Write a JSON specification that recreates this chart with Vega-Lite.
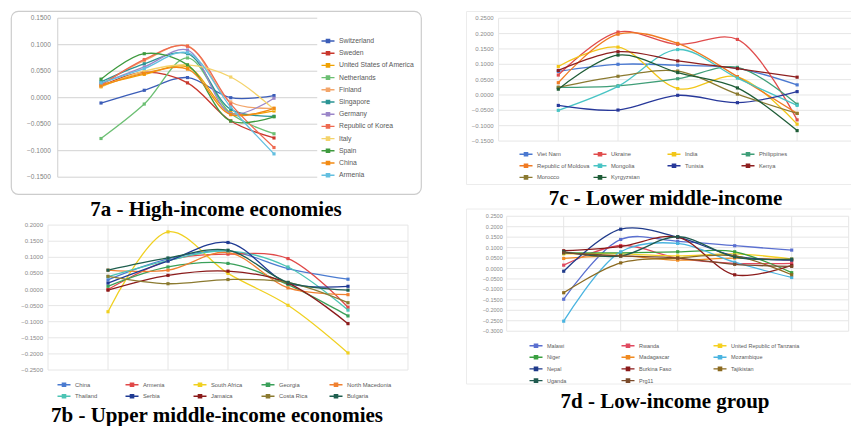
{
"$schema": "https://vega.github.io/schema/vega-lite/v6.json",
"background": "white",
"padding": {"left": 10, "top": 10, "right": 0, "bottom": 0},
"columns": 2,
"align": "none",
"bounds": "flush",
"spacing": {"row": 14.5, "column": 45},
"config": {
  "view": {"stroke": null},
  "title": {"font": "Liberation Serif", "fontSize": 21, "fontWeight": "bold", "color": "#000000", "orient": "bottom", "anchor": "middle"},
  "text": {"font": "Liberation Sans"},
  "legend": {"labelFont": "Liberation Sans", "labelColor": "#595959", "title": null, "orient": "none", "padding": 0,
             "symbolType": "M-1.3,0H1.3M-0.32,-0.32H0.32V0.32H-0.32Z", "symbolSize": 100, "symbolStrokeWidth": 1.4, "labelOffset": 5}
},
"resolve": {"scale": {"x": "independent", "y": "independent", "color": "independent"}},
"datasets": {
  "cols": [{"i": 0}, {"i": 1}, {"i": 2}, {"i": 3}, {"i": 4}, {"i": 5}, {"i": 6}],
  "tA": [{"v": -0.15}, {"v": -0.1}, {"v": -0.05}, {"v": 0}, {"v": 0.05}, {"v": 0.1}, {"v": 0.15}],
  "tB": [{"v": -0.25}, {"v": -0.2}, {"v": -0.15}, {"v": -0.1}, {"v": -0.05}, {"v": 0}, {"v": 0.05}, {"v": 0.1}, {"v": 0.15}, {"v": 0.2}],
  "tC": [{"v": -0.15}, {"v": -0.1}, {"v": -0.05}, {"v": 0}, {"v": 0.05}, {"v": 0.1}, {"v": 0.15}, {"v": 0.2}, {"v": 0.25}],
  "tD": [{"v": -0.3}, {"v": -0.25}, {"v": -0.2}, {"v": -0.15}, {"v": -0.1}, {"v": -0.05}, {"v": 0}, {"v": 0.05}, {"v": 0.1}, {"v": 0.15}, {"v": 0.2}, {"v": 0.25}],
  "high": [
    {"c": "Switzerland", "t": 1, "v": -0.010}, {"c": "Switzerland", "t": 2, "v": 0.014}, {"c": "Switzerland", "t": 3, "v": 0.038}, {"c": "Switzerland", "t": 4, "v": 0.000}, {"c": "Switzerland", "t": 5, "v": 0.004},
    {"c": "Sweden", "t": 1, "v": 0.022}, {"c": "Sweden", "t": 2, "v": 0.048}, {"c": "Sweden", "t": 3, "v": 0.028}, {"c": "Sweden", "t": 4, "v": -0.044}, {"c": "Sweden", "t": 5, "v": -0.076},
    {"c": "United States of America", "t": 1, "v": 0.024}, {"c": "United States of America", "t": 2, "v": 0.044}, {"c": "United States of America", "t": 3, "v": 0.058}, {"c": "United States of America", "t": 4, "v": -0.028}, {"c": "United States of America", "t": 5, "v": -0.025},
    {"c": "Netherlands", "t": 1, "v": -0.077}, {"c": "Netherlands", "t": 2, "v": -0.012}, {"c": "Netherlands", "t": 3, "v": 0.075}, {"c": "Netherlands", "t": 4, "v": -0.030}, {"c": "Netherlands", "t": 5, "v": -0.068},
    {"c": "Finland", "t": 1, "v": 0.025}, {"c": "Finland", "t": 2, "v": 0.070}, {"c": "Finland", "t": 3, "v": 0.098}, {"c": "Finland", "t": 4, "v": -0.008}, {"c": "Finland", "t": 5, "v": -0.020},
    {"c": "Singapore", "t": 1, "v": 0.030}, {"c": "Singapore", "t": 2, "v": 0.064}, {"c": "Singapore", "t": 3, "v": 0.083}, {"c": "Singapore", "t": 4, "v": -0.022}, {"c": "Singapore", "t": 5, "v": -0.035},
    {"c": "Germany", "t": 1, "v": 0.027}, {"c": "Germany", "t": 2, "v": 0.058}, {"c": "Germany", "t": 3, "v": 0.090}, {"c": "Germany", "t": 4, "v": -0.030}, {"c": "Germany", "t": 5, "v": -0.001},
    {"c": "Republic of Korea", "t": 1, "v": 0.023}, {"c": "Republic of Korea", "t": 2, "v": 0.072}, {"c": "Republic of Korea", "t": 3, "v": 0.097}, {"c": "Republic of Korea", "t": 4, "v": -0.012}, {"c": "Republic of Korea", "t": 5, "v": -0.094},
    {"c": "Italy", "t": 1, "v": 0.020}, {"c": "Italy", "t": 2, "v": 0.050}, {"c": "Italy", "t": 3, "v": 0.062}, {"c": "Italy", "t": 4, "v": 0.039}, {"c": "Italy", "t": 5, "v": -0.022},
    {"c": "Spain", "t": 1, "v": 0.035}, {"c": "Spain", "t": 2, "v": 0.083}, {"c": "Spain", "t": 3, "v": 0.062}, {"c": "Spain", "t": 4, "v": -0.044}, {"c": "Spain", "t": 5, "v": -0.036},
    {"c": "China", "t": 1, "v": 0.022}, {"c": "China", "t": 2, "v": 0.046}, {"c": "China", "t": 3, "v": 0.054}, {"c": "China", "t": 4, "v": -0.032}, {"c": "China", "t": 5, "v": -0.020},
    {"c": "Armenia", "t": 1, "v": 0.028}, {"c": "Armenia", "t": 2, "v": 0.055}, {"c": "Armenia", "t": 3, "v": 0.085}, {"c": "Armenia", "t": 4, "v": -0.018}, {"c": "Armenia", "t": 5, "v": -0.106}
  ],
  "lower": [
    {"c": "Viet Nam", "t": 1, "v": 0.077}, {"c": "Viet Nam", "t": 2, "v": 0.100}, {"c": "Viet Nam", "t": 3, "v": 0.097}, {"c": "Viet Nam", "t": 4, "v": 0.087}, {"c": "Viet Nam", "t": 5, "v": 0.033},
    {"c": "Ukraine", "t": 1, "v": 0.065}, {"c": "Ukraine", "t": 2, "v": 0.205}, {"c": "Ukraine", "t": 3, "v": 0.165}, {"c": "Ukraine", "t": 4, "v": 0.181}, {"c": "Ukraine", "t": 5, "v": -0.081},
    {"c": "India", "t": 1, "v": 0.093}, {"c": "India", "t": 2, "v": 0.156}, {"c": "India", "t": 3, "v": 0.021}, {"c": "India", "t": 4, "v": 0.059}, {"c": "India", "t": 5, "v": -0.095},
    {"c": "Philippines", "t": 1, "v": 0.025}, {"c": "Philippines", "t": 2, "v": 0.030}, {"c": "Philippines", "t": 3, "v": 0.053}, {"c": "Philippines", "t": 4, "v": 0.090}, {"c": "Philippines", "t": 5, "v": -0.030},
    {"c": "Republic of Moldova", "t": 1, "v": 0.040}, {"c": "Republic of Moldova", "t": 2, "v": 0.198}, {"c": "Republic of Moldova", "t": 3, "v": 0.168}, {"c": "Republic of Moldova", "t": 4, "v": 0.060}, {"c": "Republic of Moldova", "t": 5, "v": -0.060},
    {"c": "Mongolia", "t": 1, "v": -0.050}, {"c": "Mongolia", "t": 2, "v": 0.028}, {"c": "Mongolia", "t": 3, "v": 0.148}, {"c": "Mongolia", "t": 4, "v": 0.055}, {"c": "Mongolia", "t": 5, "v": -0.034},
    {"c": "Tunisia", "t": 1, "v": -0.034}, {"c": "Tunisia", "t": 2, "v": -0.049}, {"c": "Tunisia", "t": 3, "v": -0.001}, {"c": "Tunisia", "t": 4, "v": -0.025}, {"c": "Tunisia", "t": 5, "v": 0.011},
    {"c": "Kenya", "t": 1, "v": 0.080}, {"c": "Kenya", "t": 2, "v": 0.141}, {"c": "Kenya", "t": 3, "v": 0.111}, {"c": "Kenya", "t": 4, "v": 0.086}, {"c": "Kenya", "t": 5, "v": 0.058},
    {"c": "Morocco", "t": 1, "v": 0.025}, {"c": "Morocco", "t": 2, "v": 0.061}, {"c": "Morocco", "t": 3, "v": 0.078}, {"c": "Morocco", "t": 4, "v": 0.003}, {"c": "Morocco", "t": 5, "v": -0.060},
    {"c": "Kyrgyzstan", "t": 1, "v": 0.019}, {"c": "Kyrgyzstan", "t": 2, "v": 0.130}, {"c": "Kyrgyzstan", "t": 3, "v": 0.073}, {"c": "Kyrgyzstan", "t": 4, "v": 0.023}, {"c": "Kyrgyzstan", "t": 5, "v": -0.116}
  ],
  "upper": [
    {"c": "China", "t": 1, "v": 0.030}, {"c": "China", "t": 2, "v": 0.095}, {"c": "China", "t": 3, "v": 0.120}, {"c": "China", "t": 4, "v": 0.065}, {"c": "China", "t": 5, "v": 0.032},
    {"c": "Armenia", "t": 1, "v": 0.000}, {"c": "Armenia", "t": 2, "v": 0.090}, {"c": "Armenia", "t": 3, "v": 0.110}, {"c": "Armenia", "t": 4, "v": 0.096}, {"c": "Armenia", "t": 5, "v": -0.055},
    {"c": "South Africa", "t": 1, "v": -0.069}, {"c": "South Africa", "t": 2, "v": 0.179}, {"c": "South Africa", "t": 3, "v": 0.050}, {"c": "South Africa", "t": 4, "v": -0.049}, {"c": "South Africa", "t": 5, "v": -0.197},
    {"c": "Georgia", "t": 1, "v": 0.010}, {"c": "Georgia", "t": 2, "v": 0.070}, {"c": "Georgia", "t": 3, "v": 0.081}, {"c": "Georgia", "t": 4, "v": 0.015}, {"c": "Georgia", "t": 5, "v": -0.082},
    {"c": "North Macedonia", "t": 1, "v": 0.060}, {"c": "North Macedonia", "t": 2, "v": 0.060}, {"c": "North Macedonia", "t": 3, "v": 0.115}, {"c": "North Macedonia", "t": 4, "v": 0.005}, {"c": "North Macedonia", "t": 5, "v": -0.016},
    {"c": "Thailand", "t": 1, "v": 0.040}, {"c": "Thailand", "t": 2, "v": 0.090}, {"c": "Thailand", "t": 3, "v": 0.120}, {"c": "Thailand", "t": 4, "v": 0.070}, {"c": "Thailand", "t": 5, "v": -0.064},
    {"c": "Serbia", "t": 1, "v": 0.020}, {"c": "Serbia", "t": 2, "v": 0.088}, {"c": "Serbia", "t": 3, "v": 0.146}, {"c": "Serbia", "t": 4, "v": 0.020}, {"c": "Serbia", "t": 5, "v": 0.010},
    {"c": "Jamaica", "t": 1, "v": -0.002}, {"c": "Jamaica", "t": 2, "v": 0.044}, {"c": "Jamaica", "t": 3, "v": 0.057}, {"c": "Jamaica", "t": 4, "v": 0.020}, {"c": "Jamaica", "t": 5, "v": -0.106},
    {"c": "Costa Rica", "t": 1, "v": 0.041}, {"c": "Costa Rica", "t": 2, "v": 0.018}, {"c": "Costa Rica", "t": 3, "v": 0.031}, {"c": "Costa Rica", "t": 4, "v": 0.022}, {"c": "Costa Rica", "t": 5, "v": -0.041},
    {"c": "Bulgaria", "t": 1, "v": 0.060}, {"c": "Bulgaria", "t": 2, "v": 0.098}, {"c": "Bulgaria", "t": 3, "v": 0.122}, {"c": "Bulgaria", "t": 4, "v": 0.022}, {"c": "Bulgaria", "t": 5, "v": -0.002}
  ],
  "low": [
    {"c": "Malawi", "t": 1, "v": -0.147}, {"c": "Malawi", "t": 2, "v": 0.139}, {"c": "Malawi", "t": 3, "v": 0.130}, {"c": "Malawi", "t": 4, "v": 0.109}, {"c": "Malawi", "t": 5, "v": 0.088},
    {"c": "Rwanda", "t": 1, "v": 0.016}, {"c": "Rwanda", "t": 2, "v": 0.110}, {"c": "Rwanda", "t": 3, "v": 0.050}, {"c": "Rwanda", "t": 4, "v": 0.025}, {"c": "Rwanda", "t": 5, "v": 0.025},
    {"c": "United Republic of Tanzania", "t": 1, "v": 0.070}, {"c": "United Republic of Tanzania", "t": 2, "v": 0.070}, {"c": "United Republic of Tanzania", "t": 3, "v": 0.060}, {"c": "United Republic of Tanzania", "t": 4, "v": 0.070}, {"c": "United Republic of Tanzania", "t": 5, "v": 0.045},
    {"c": "Niger", "t": 1, "v": 0.075}, {"c": "Niger", "t": 2, "v": 0.075}, {"c": "Niger", "t": 3, "v": 0.080}, {"c": "Niger", "t": 4, "v": 0.080}, {"c": "Niger", "t": 5, "v": -0.020},
    {"c": "Madagascar", "t": 1, "v": 0.048}, {"c": "Madagascar", "t": 2, "v": 0.060}, {"c": "Madagascar", "t": 3, "v": 0.040}, {"c": "Madagascar", "t": 4, "v": 0.050}, {"c": "Madagascar", "t": 5, "v": 0.040},
    {"c": "Mozambique", "t": 1, "v": -0.252}, {"c": "Mozambique", "t": 2, "v": 0.080}, {"c": "Mozambique", "t": 3, "v": 0.120}, {"c": "Mozambique", "t": 4, "v": 0.030}, {"c": "Mozambique", "t": 5, "v": -0.043},
    {"c": "Nepal", "t": 1, "v": -0.013}, {"c": "Nepal", "t": 2, "v": 0.188}, {"c": "Nepal", "t": 3, "v": 0.150}, {"c": "Nepal", "t": 4, "v": 0.060}, {"c": "Nepal", "t": 5, "v": 0.040},
    {"c": "Burkina Faso", "t": 1, "v": 0.085}, {"c": "Burkina Faso", "t": 2, "v": 0.105}, {"c": "Burkina Faso", "t": 3, "v": 0.150}, {"c": "Burkina Faso", "t": 4, "v": -0.030}, {"c": "Burkina Faso", "t": 5, "v": 0.015},
    {"c": "Tajikistan", "t": 1, "v": -0.116}, {"c": "Tajikistan", "t": 2, "v": 0.027}, {"c": "Tajikistan", "t": 3, "v": 0.050}, {"c": "Tajikistan", "t": 4, "v": 0.060}, {"c": "Tajikistan", "t": 5, "v": -0.030},
    {"c": "Uganda", "t": 1, "v": 0.080}, {"c": "Uganda", "t": 2, "v": 0.060}, {"c": "Uganda", "t": 3, "v": 0.152}, {"c": "Uganda", "t": 4, "v": 0.055}, {"c": "Uganda", "t": 5, "v": 0.045},
    {"c": "Prg11", "t": 1, "v": 0.075}, {"c": "Prg11", "t": 2, "v": 0.060}, {"c": "Prg11", "t": 3, "v": 0.050}, {"c": "Prg11", "t": 4, "v": 0.020}, {"c": "Prg11", "t": 5, "v": 0.010}
  ]
},
"concat": [
  {
    "width": 410, "height": 183,
    "view": {"stroke": "#cccccc", "strokeWidth": 1.2, "cornerRadius": 7},
    "title": {"text": "7a - High-income economies", "offset": 5},
    "layer": [
      {"data": {"name": "tA"}, "mark": {"type": "rule", "color": "#d2d2d2", "strokeWidth": 1},
       "encoding": {"y": {"field": "v", "type": "quantitative", "axis": null, "scale": {"domain": [-0.1817, 0.1636], "nice": false, "zero": false}},
                    "x": {"datum": 0, "type": "quantitative", "axis": null, "scale": {"domain": [-1.081, 8.399], "nice": false, "zero": false}},
                    "x2": {"datum": 6}}},
      {"data": {"name": "cols"}, "transform": [{"filter": "datum.i == 0"}], "mark": {"type": "rule", "color": "#cfcfcf", "strokeWidth": 1},
       "encoding": {"x": {"field": "i", "type": "quantitative", "axis": null, "scale": {"domain": [-1.081, 8.399], "nice": false, "zero": false}},
                    "y": {"datum": -0.15, "type": "quantitative", "axis": null, "scale": {"domain": [-0.1817, 0.1636], "nice": false, "zero": false}},
                    "y2": {"datum": 0.15}}},
      {"data": {"name": "tA"}, "mark": {"type": "text", "align": "right", "baseline": "middle", "dx": -7, "fontSize": 6.5, "color": "#7f7f7f"},
       "encoding": {"y": {"field": "v", "type": "quantitative", "axis": null, "scale": {"domain": [-0.1817, 0.1636], "nice": false, "zero": false}},
                    "x": {"datum": 0, "type": "quantitative", "axis": null, "scale": {"domain": [-1.081, 8.399], "nice": false, "zero": false}},
                    "text": {"field": "v", "type": "quantitative", "format": ".4f"}}},
      {"data": {"name": "high"}, "mark": {"type": "line", "interpolate": "catmull-rom", "strokeWidth": 1.3},
       "encoding": {"x": {"field": "t", "type": "quantitative", "axis": null, "scale": {"domain": [-1.081, 8.399], "nice": false, "zero": false}},
                    "y": {"field": "v", "type": "quantitative", "axis": null, "scale": {"domain": [-0.1817, 0.1636], "nice": false, "zero": false}},
                    "color": {"field": "c", "type": "nominal",
                              "scale": {"domain": ["Switzerland", "Sweden", "United States of America", "Netherlands", "Finland", "Singapore", "Germany", "Republic of Korea", "Italy", "Spain", "China", "Armenia"],
                                        "range": ["#3b5db8", "#c9372c", "#f0a202", "#6cbf73", "#f3a56a", "#2b9494", "#9b86c9", "#ee6a50", "#f4d36b", "#3e9a3e", "#f28b14", "#63bfe0"]},
                              "legend": {"legendX": 311, "legendY": 24, "labelFontSize": 6.8, "rowPadding": 1.2, "direction": "vertical"}}}},
      {"data": {"name": "high"}, "mark": {"type": "point", "filled": true, "shape": "square", "size": 10, "opacity": 1},
       "encoding": {"x": {"field": "t", "type": "quantitative", "axis": null, "scale": {"domain": [-1.081, 8.399], "nice": false, "zero": false}},
                    "y": {"field": "v", "type": "quantitative", "axis": null, "scale": {"domain": [-0.1817, 0.1636], "nice": false, "zero": false}},
                    "color": {"field": "c", "type": "nominal",
                              "scale": {"domain": ["Switzerland", "Sweden", "United States of America", "Netherlands", "Finland", "Singapore", "Germany", "Republic of Korea", "Italy", "Spain", "China", "Armenia"],
                                        "range": ["#3b5db8", "#c9372c", "#f0a202", "#6cbf73", "#f3a56a", "#2b9494", "#9b86c9", "#ee6a50", "#f4d36b", "#3e9a3e", "#f28b14", "#63bfe0"]},
                              "legend": {"legendX": 311, "legendY": 24, "labelFontSize": 6.8, "rowPadding": 1.2, "direction": "vertical"}}}}
    ]
  },
  {
    "width": 391, "height": 173,
    "view": {"stroke": "#ececec", "strokeWidth": 1},
    "title": {"text": "7c - Lower middle-income", "offset": 4, "dx": 4},
    "layer": [
      {"data": {"name": "tC"}, "mark": {"type": "rule", "color": "#e6e6e6", "strokeWidth": 1},
       "encoding": {"y": {"field": "v", "type": "quantitative", "axis": null, "scale": {"domain": [-0.2899, 0.2736], "nice": false, "zero": false}},
                    "x": {"datum": 0, "type": "quantitative", "axis": null, "scale": {"domain": [-0.546, 6.003], "nice": false, "zero": false}},
                    "x2": {"datum": 6}}},
      {"data": {"name": "cols"}, "mark": {"type": "rule", "color": "#e6e6e6", "strokeWidth": 1},
       "encoding": {"x": {"field": "i", "type": "quantitative", "axis": null, "scale": {"domain": [-0.546, 6.003], "nice": false, "zero": false}},
                    "y": {"datum": -0.15, "type": "quantitative", "axis": null, "scale": {"domain": [-0.2899, 0.2736], "nice": false, "zero": false}},
                    "y2": {"datum": 0.25}}},
      {"data": {"name": "tC"}, "mark": {"type": "text", "align": "right", "baseline": "middle", "dx": -5, "fontSize": 6, "color": "#8a8a8a"},
       "encoding": {"y": {"field": "v", "type": "quantitative", "axis": null, "scale": {"domain": [-0.2899, 0.2736], "nice": false, "zero": false}},
                    "x": {"datum": 0, "type": "quantitative", "axis": null, "scale": {"domain": [-0.546, 6.003], "nice": false, "zero": false}},
                    "text": {"field": "v", "type": "quantitative", "format": ".4f"}}},
      {"data": {"name": "lower"}, "mark": {"type": "line", "interpolate": "catmull-rom", "strokeWidth": 1.3},
       "encoding": {"x": {"field": "t", "type": "quantitative", "axis": null, "scale": {"domain": [-0.546, 6.003], "nice": false, "zero": false}},
                    "y": {"field": "v", "type": "quantitative", "axis": null, "scale": {"domain": [-0.2899, 0.2736], "nice": false, "zero": false}},
                    "color": {"field": "c", "type": "nominal",
                              "scale": {"domain": ["Viet Nam", "Ukraine", "India", "Philippines", "Republic of Moldova", "Mongolia", "Tunisia", "Kenya", "Morocco", "Kyrgyzstan"],
                                        "range": ["#4a78d0", "#e04c4c", "#f2c618", "#3f9e78", "#f07a22", "#48c4c4", "#27389a", "#8e1f1f", "#8b7a30", "#1e5c36"]},
                              "legend": {"legendX": 54, "legendY": 137, "labelFontSize": 5.8, "columns": 4, "direction": "horizontal", "gridAlign": "all", "columnPadding": 0, "rowPadding": 0.7}}}},
      {"data": {"name": "lower"}, "mark": {"type": "point", "filled": true, "shape": "square", "size": 10, "opacity": 1},
       "encoding": {"x": {"field": "t", "type": "quantitative", "axis": null, "scale": {"domain": [-0.546, 6.003], "nice": false, "zero": false}},
                    "y": {"field": "v", "type": "quantitative", "axis": null, "scale": {"domain": [-0.2899, 0.2736], "nice": false, "zero": false}},
                    "color": {"field": "c", "type": "nominal",
                              "scale": {"domain": ["Viet Nam", "Ukraine", "India", "Philippines", "Republic of Moldova", "Mongolia", "Tunisia", "Kenya", "Morocco", "Kyrgyzstan"],
                                        "range": ["#4a78d0", "#e04c4c", "#f2c618", "#3f9e78", "#f07a22", "#48c4c4", "#27389a", "#8e1f1f", "#8b7a30", "#1e5c36"]},
                              "legend": {"legendX": 54, "legendY": 137, "labelFontSize": 5.8, "columns": 4, "direction": "horizontal", "gridAlign": "all", "columnPadding": 0, "rowPadding": 0.7}}}}
    ]
  },
  {
    "width": 410, "height": 193,
    "title": {"text": "7b - Upper middle-income economies", "offset": 3, "dx": 1},
    "layer": [
      {"data": {"name": "tB"}, "mark": {"type": "rule", "color": "#e6e6e6", "strokeWidth": 1},
       "encoding": {"y": {"field": "v", "type": "quantitative", "axis": null, "scale": {"domain": [-0.3478, 0.2516], "nice": false, "zero": false}},
                    "x": {"datum": 0, "type": "quantitative", "axis": null, "scale": {"domain": [-0.6167, 6.2167], "nice": false, "zero": false}},
                    "x2": {"datum": 6}}},
      {"data": {"name": "cols"}, "mark": {"type": "rule", "color": "#e6e6e6", "strokeWidth": 1},
       "encoding": {"x": {"field": "i", "type": "quantitative", "axis": null, "scale": {"domain": [-0.6167, 6.2167], "nice": false, "zero": false}},
                    "y": {"datum": -0.25, "type": "quantitative", "axis": null, "scale": {"domain": [-0.3478, 0.2516], "nice": false, "zero": false}},
                    "y2": {"datum": 0.2}}},
      {"data": {"name": "tB"}, "mark": {"type": "text", "align": "right", "baseline": "middle", "dx": -5, "fontSize": 6, "color": "#8a8a8a"},
       "encoding": {"y": {"field": "v", "type": "quantitative", "axis": null, "scale": {"domain": [-0.3478, 0.2516], "nice": false, "zero": false}},
                    "x": {"datum": 0, "type": "quantitative", "axis": null, "scale": {"domain": [-0.6167, 6.2167], "nice": false, "zero": false}},
                    "text": {"field": "v", "type": "quantitative", "format": ".4f"}}},
      {"data": {"name": "upper"}, "mark": {"type": "line", "interpolate": "catmull-rom", "strokeWidth": 1.3},
       "encoding": {"x": {"field": "t", "type": "quantitative", "axis": null, "scale": {"domain": [-0.6167, 6.2167], "nice": false, "zero": false}},
                    "y": {"field": "v", "type": "quantitative", "axis": null, "scale": {"domain": [-0.3478, 0.2516], "nice": false, "zero": false}},
                    "color": {"field": "c", "type": "nominal",
                              "scale": {"domain": ["China", "Armenia", "South Africa", "Georgia", "North Macedonia", "Thailand", "Serbia", "Jamaica", "Costa Rica", "Bulgaria"],
                                        "range": ["#4a7bd0", "#e04848", "#f0d020", "#3aa05a", "#f08030", "#4cc4b4", "#1f3a93", "#8b1a1a", "#8b7a30", "#1f5f4f"]},
                              "legend": {"legendX": 47, "legendY": 170, "labelFontSize": 5.8, "columns": 5, "direction": "horizontal", "gridAlign": "all", "columnPadding": 2, "rowPadding": 0.7}}}},
      {"data": {"name": "upper"}, "mark": {"type": "point", "filled": true, "shape": "square", "size": 10, "opacity": 1},
       "encoding": {"x": {"field": "t", "type": "quantitative", "axis": null, "scale": {"domain": [-0.6167, 6.2167], "nice": false, "zero": false}},
                    "y": {"field": "v", "type": "quantitative", "axis": null, "scale": {"domain": [-0.3478, 0.2516], "nice": false, "zero": false}},
                    "color": {"field": "c", "type": "nominal",
                              "scale": {"domain": ["China", "Armenia", "South Africa", "Georgia", "North Macedonia", "Thailand", "Serbia", "Jamaica", "Costa Rica", "Bulgaria"],
                                        "range": ["#4a7bd0", "#e04848", "#f0d020", "#3aa05a", "#f08030", "#4cc4b4", "#1f3a93", "#8b1a1a", "#8b7a30", "#1f5f4f"]},
                              "legend": {"legendX": 47, "legendY": 170, "labelFontSize": 5.8, "columns": 5, "direction": "horizontal", "gridAlign": "all", "columnPadding": 2, "rowPadding": 0.7}}}}
    ]
  },
  {
    "width": 386, "height": 175,
    "view": {"stroke": "#ececec", "strokeWidth": 1},
    "title": {"text": "7d - Low-income group", "offset": 5, "dx": 6},
    "layer": [
      {"data": {"name": "tD"}, "mark": {"type": "rule", "color": "#e6e6e6", "strokeWidth": 1},
       "encoding": {"y": {"field": "v", "type": "quantitative", "axis": null, "scale": {"domain": [-0.5502, 0.2871], "nice": false, "zero": false}},
                    "x": {"datum": 0, "type": "quantitative", "axis": null, "scale": {"domain": [-0.714, 6.058], "nice": false, "zero": false}},
                    "x2": {"datum": 6}}},
      {"data": {"name": "cols"}, "mark": {"type": "rule", "color": "#e6e6e6", "strokeWidth": 1},
       "encoding": {"x": {"field": "i", "type": "quantitative", "axis": null, "scale": {"domain": [-0.714, 6.058], "nice": false, "zero": false}},
                    "y": {"datum": -0.3, "type": "quantitative", "axis": null, "scale": {"domain": [-0.5502, 0.2871], "nice": false, "zero": false}},
                    "y2": {"datum": 0.25}}},
      {"data": {"name": "tD"}, "mark": {"type": "text", "align": "right", "baseline": "middle", "dx": -4, "fontSize": 5.5, "color": "#8a8a8a"},
       "encoding": {"y": {"field": "v", "type": "quantitative", "axis": null, "scale": {"domain": [-0.5502, 0.2871], "nice": false, "zero": false}},
                    "x": {"datum": 0, "type": "quantitative", "axis": null, "scale": {"domain": [-0.714, 6.058], "nice": false, "zero": false}},
                    "text": {"field": "v", "type": "quantitative", "format": ".4f"}}},
      {"data": {"name": "low"}, "mark": {"type": "line", "interpolate": "catmull-rom", "strokeWidth": 1.3},
       "encoding": {"x": {"field": "t", "type": "quantitative", "axis": null, "scale": {"domain": [-0.714, 6.058], "nice": false, "zero": false}},
                    "y": {"field": "v", "type": "quantitative", "axis": null, "scale": {"domain": [-0.5502, 0.2871], "nice": false, "zero": false}},
                    "color": {"field": "c", "type": "nominal",
                              "scale": {"domain": ["Malawi", "Rwanda", "United Republic of Tanzania", "Niger", "Madagascar", "Mozambique", "Nepal", "Burkina Faso", "Tajikistan", "Uganda", "Prg11"],
                                        "range": ["#5a6fd0", "#e04a60", "#f5d020", "#3aa040", "#f08a20", "#4ab4e0", "#1f3a8a", "#8b1a1a", "#8b6a20", "#1f5a4f", "#7a4a2a"]},
                              "legend": {"legendX": 64, "legendY": 131, "labelFontSize": 5.5, "columns": 3, "direction": "horizontal", "gridAlign": "all", "columnPadding": 2, "rowPadding": 0.7}}}},
      {"data": {"name": "low"}, "mark": {"type": "point", "filled": true, "shape": "square", "size": 10, "opacity": 1},
       "encoding": {"x": {"field": "t", "type": "quantitative", "axis": null, "scale": {"domain": [-0.714, 6.058], "nice": false, "zero": false}},
                    "y": {"field": "v", "type": "quantitative", "axis": null, "scale": {"domain": [-0.5502, 0.2871], "nice": false, "zero": false}},
                    "color": {"field": "c", "type": "nominal",
                              "scale": {"domain": ["Malawi", "Rwanda", "United Republic of Tanzania", "Niger", "Madagascar", "Mozambique", "Nepal", "Burkina Faso", "Tajikistan", "Uganda", "Prg11"],
                                        "range": ["#5a6fd0", "#e04a60", "#f5d020", "#3aa040", "#f08a20", "#4ab4e0", "#1f3a8a", "#8b1a1a", "#8b6a20", "#1f5a4f", "#7a4a2a"]},
                              "legend": {"legendX": 64, "legendY": 131, "labelFontSize": 5.5, "columns": 3, "direction": "horizontal", "gridAlign": "all", "columnPadding": 2, "rowPadding": 0.7}}}}
    ]
  }
]
}
